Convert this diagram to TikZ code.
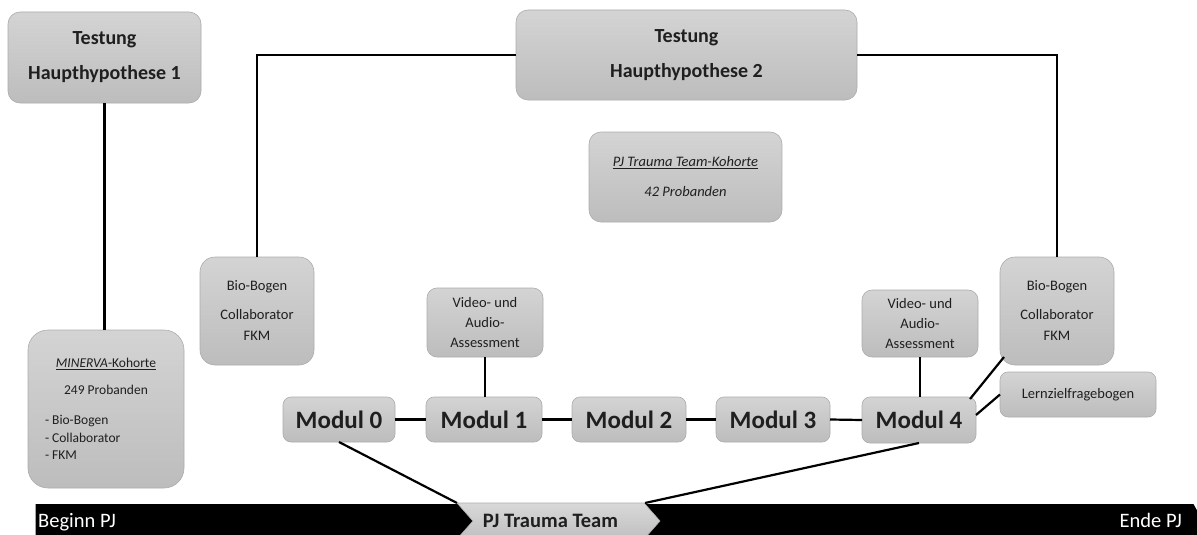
\documentclass[tikz,border=0pt]{standalone}
\usepackage{fontspec}
\setmainfont{Carlito}
\usetikzlibrary{calc,shapes.symbols}
\begin{document}
\begin{tikzpicture}[x=1pt,y=-1pt,
  box/.style={draw=gray!65, line width=0.6pt, top color=gray!34, bottom color=gray!52,
    align=center, inner sep=0pt, outer sep=0pt, text=black!88},
  big/.style={box, font=\bfseries\fontsize{20}{35}\selectfont, rounded corners=12pt},
  modul/.style={box, font=\bfseries\fontsize{25}{30}\selectfont, rounded corners=8pt,
    minimum height=45pt},
  small/.style={box, font=\fontsize{14.5}{20}\selectfont},
  conn/.style={line width=2.2pt, black},
  bartext/.style={white, font=\fontsize{20.5}{24}\selectfont, inner sep=0pt},
]
\useasboundingbox (0,0) rectangle (1197,535);

% top boxes
\node[big, minimum width=193pt, minimum height=91pt] (hh1) at (104.5,57.5)
  {Testung\\Haupthypothese 1};
\node[big, minimum width=341pt, minimum height=90pt] (hh2) at (686.5,55)
  {Testung\\Haupthypothese 2};
\node[box, rounded corners=12pt, minimum width=193pt, minimum height=90pt,
  font=\itshape\fontsize{14.5}{30}\selectfont] (koh) at (685.5,177)
  {\underline{PJ Trauma Team-Kohorte}\\42 Probanden};

% MINERVA
\node[box, rounded corners=20pt, minimum width=156pt, minimum height=158pt,
  align=left, font=\fontsize{13.5}{17.5}\selectfont] (min) at (106,409)
  {\makebox[122pt][c]{\underline{\textit{MINERVA}-Kohorte}}\\[9.5pt]
   \makebox[122pt][c]{249 Probanden}\\[12.5pt]
   - Bio-Bogen\\
   - Collaborator\\
   - FKM};

% Bio-Bogen boxes
\node[small, rounded corners=15pt, minimum width=114pt, minimum height=108pt,
  font=\fontsize{14.5}{21}\selectfont] (bioL) at (257,311)
  {Bio-Bogen\\[8pt]Collaborator\\FKM};
\node[small, rounded corners=15pt, minimum width=114pt, minimum height=108pt,
  font=\fontsize{14.5}{21}\selectfont] (bioR) at (1057,311)
  {Bio-Bogen\\[8pt]Collaborator\\FKM};

% Video boxes
\node[small, rounded corners=10pt, minimum width=116pt, minimum height=69pt] (v1) at (485,322.5)
  {Video- und\\Audio-\\Assessment};
\node[small, rounded corners=10pt, minimum width=116pt, minimum height=67pt] (v2) at (920,323.5)
  {Video- und\\Audio-\\Assessment};

% Lernziel
\node[small, rounded corners=8pt, minimum width=156pt, minimum height=45pt] (lz) at (1078,394.5)
  {Lernzielfragebogen};

% Module
\node[modul, minimum width=112pt] (m0) at (339,419.5) {Modul 0};
\node[modul, minimum width=116pt] (m1) at (484,419.5) {Modul 1};
\node[modul, minimum width=114pt] (m2) at (629,419.5) {Modul 2};
\node[modul, minimum width=114pt] (m3) at (773,419.5) {Modul 3};
\node[modul, minimum width=114pt, minimum height=46pt] (m4) at (919,420) {Modul 4};

% timeline bar
\node[signal, signal to=east, signal pointer angle=122, fill=black, draw=none,
  minimum width=1169pt, minimum height=40pt, inner sep=0pt, outer sep=0pt] (bar) at (614.5,524) {};
\node[bartext, anchor=base west] (beg) at (38,527) {Beginn PJ};
\node[bartext, anchor=base east] (end) at (1182,527) {Ende PJ};

% PJ Trauma Team chevron
\node[signal, signal from=west, signal to=east, signal pointer angle=97,
  draw=gray!65, line width=0.6pt, top color=gray!30, bottom color=gray!50,
  minimum width=203pt, minimum height=36pt, inner sep=0pt, outer sep=0pt,
  font=\bfseries\fontsize{20.5}{24}\selectfont, text=black!88] (pjt) at (558.5,521)
  {\hspace*{-16pt}PJ Trauma Team};
\coordinate (pjtl) at (457,503);
\coordinate (pjtr) at (645,503);

% connectors
\draw[conn] (hh1.south) -- (hh1.south |- min.north);
\draw[conn] (bioL.north) |- (hh2.west);
\draw[conn] (bioR.north) |- (hh2.east);
\draw[conn] ($(bioL.south)+(43,0)$) -- ($(bioL.south)+(43,0)$ |- m0.north);
\draw[conn] (v1.south) -- (v1.south |- m1.north);
\draw[conn] (v2.south) -- (v2.south |- m4.north);
\draw[conn] (m0.east) -- (m1.west);
\draw[conn] (m1.east) -- (m2.west);
\draw[conn] (m2.east) -- (m3.west);
\draw[conn] (m3.east) -- (m4.west);
\draw[conn] ($(m4.north east)+(-6,2)$) -- ($(bioR.south west)+(4,-8)$);
\draw[conn] ($(m4.east)+(0,-5)$) -- (lz.west);
\draw[conn] (m0.south) -- (pjtl);
\draw[conn] (m4.south) -- (pjtr);
\end{tikzpicture}
\end{document}
